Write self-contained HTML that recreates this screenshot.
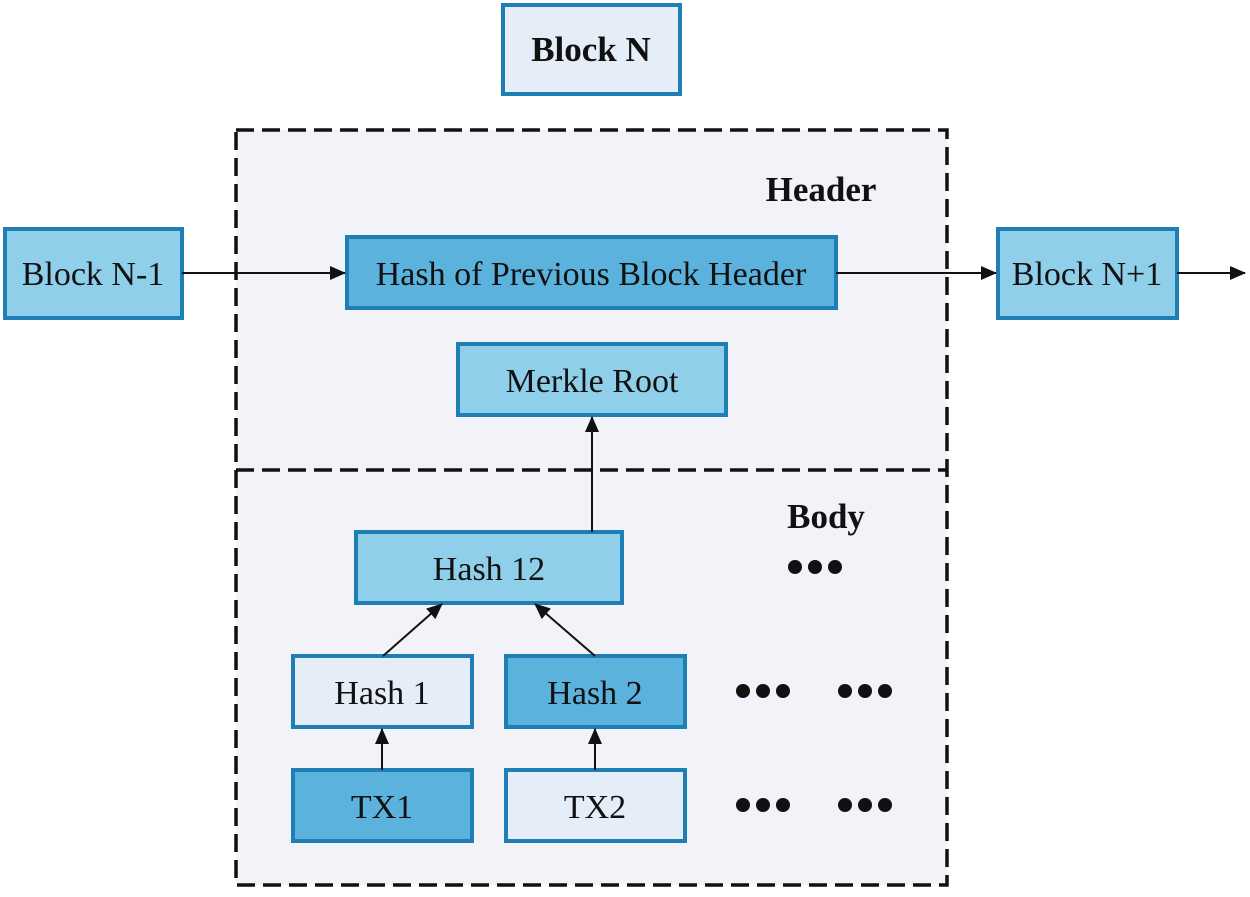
<!DOCTYPE html>
<html><head><meta charset="utf-8"><style>
body{margin:0;background:#fff;}
svg text{font-family:"Liberation Serif",serif;}
</style></head><body>
<svg width="1250" height="892" viewBox="0 0 1250 892" xmlns="http://www.w3.org/2000/svg">
<defs>
<marker id="b" markerWidth="16" markerHeight="14" refX="15" refY="7" orient="auto" markerUnits="userSpaceOnUse"><path d="M0,0 L16,7 L0,14 z" fill="#111"/></marker></defs>
<rect x="236" y="130" width="711" height="755" fill="#f2f3f8" stroke="#111" stroke-width="3.5" stroke-dasharray="18,8"/>
<line x1="236" y1="470" x2="947" y2="470" stroke="#111" stroke-width="3.5" stroke-dasharray="18,8"/>
<g stroke="#1f7fb5" stroke-width="4">
<rect x="503" y="5" width="177" height="89" fill="#e4edf8"/>
<rect x="5" y="229" width="177" height="89" fill="#8fcfea"/>
<rect x="347" y="237" width="489" height="71" fill="#5bb3dd"/>
<rect x="998" y="229" width="179" height="89" fill="#8fcfea"/>
<rect x="458" y="344" width="268" height="71" fill="#8fcfea"/>
<rect x="356" y="532" width="266" height="71" fill="#8fcfea"/>
<rect x="293" y="656" width="179" height="71" fill="#e4edf8"/>
<rect x="506" y="656" width="179" height="71" fill="#5bb3dd"/>
<rect x="293" y="770" width="179" height="71" fill="#5bb3dd"/>
<rect x="506" y="770" width="179" height="71" fill="#e4edf8"/>
</g>
<g stroke="#111" stroke-width="2" fill="none">
<line x1="182" y1="273" x2="345" y2="273" marker-end="url(#b)"/>
<line x1="836" y1="273" x2="996" y2="273" marker-end="url(#b)"/>
<line x1="1177" y1="273" x2="1245" y2="273" marker-end="url(#b)"/>
<line x1="592" y1="532" x2="592" y2="417" marker-end="url(#b)"/>
<line x1="383" y1="656" x2="442" y2="604" marker-end="url(#b)"/>
<line x1="595" y1="656" x2="535" y2="604" marker-end="url(#b)"/>
<line x1="382" y1="770" x2="382" y2="729" marker-end="url(#b)"/>
<line x1="595" y1="770" x2="595" y2="729" marker-end="url(#b)"/>
</g>
<g font-size="34" text-anchor="middle" fill="#111">
<text x="591" y="61" font-weight="bold" font-size="35">Block N</text>
<text x="93" y="285">Block N-1</text>
<text x="591" y="285">Hash of Previous Block Header</text>
<text x="1087" y="285">Block N+1</text>
<text x="592" y="392">Merkle Root</text>
<text x="489" y="580">Hash 12</text>
<text x="382" y="704">Hash 1</text>
<text x="595" y="704">Hash 2</text>
<text x="382" y="818">TX1</text>
<text x="595" y="818">TX2</text>
<text x="821" y="201" font-weight="bold" font-size="35">Header</text>
<text x="826" y="528" font-weight="bold" font-size="35">Body</text>
</g>
<g fill="#111">
<circle cx="795" cy="567" r="7"/><circle cx="815" cy="567" r="7"/><circle cx="835" cy="567" r="7"/>
<circle cx="743" cy="691" r="7"/><circle cx="763" cy="691" r="7"/><circle cx="783" cy="691" r="7"/>
<circle cx="845" cy="691" r="7"/><circle cx="865" cy="691" r="7"/><circle cx="885" cy="691" r="7"/>
<circle cx="743" cy="805" r="7"/><circle cx="763" cy="805" r="7"/><circle cx="783" cy="805" r="7"/>
<circle cx="845" cy="805" r="7"/><circle cx="865" cy="805" r="7"/><circle cx="885" cy="805" r="7"/>
</g>
</svg>
</body></html>
